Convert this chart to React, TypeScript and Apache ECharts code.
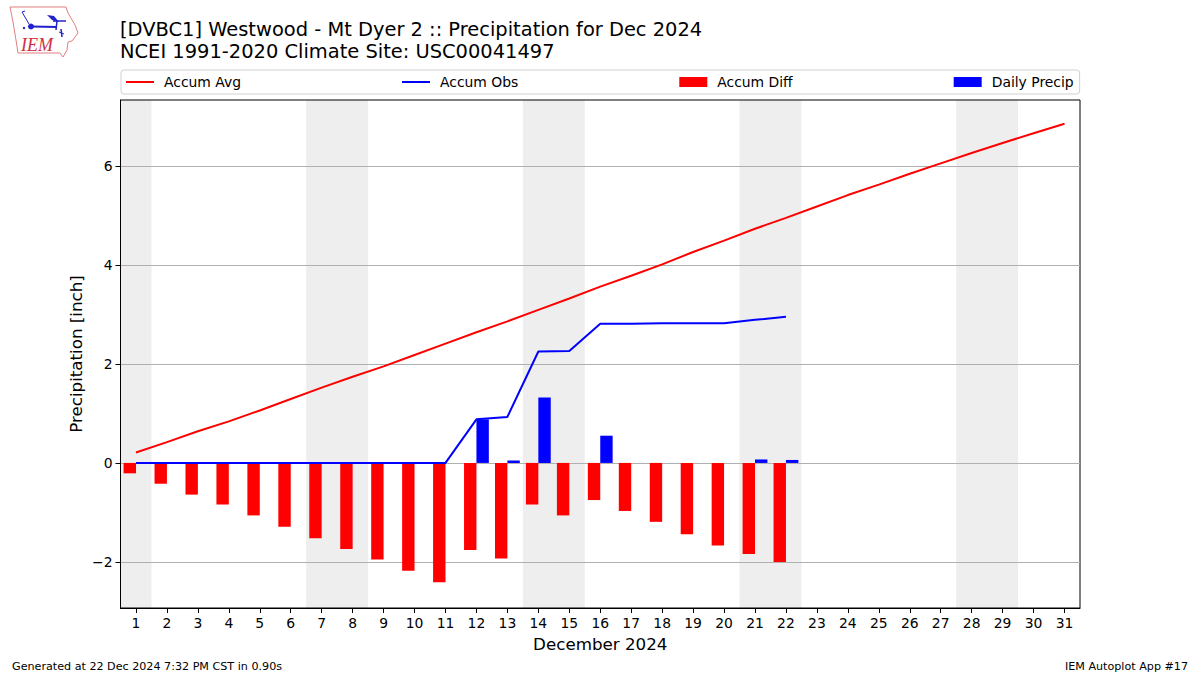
import React, { useEffect, useRef } from "react";
import * as echarts from "echarts";

const days = Array.from({ length: 31 }, (_, i) => String(i + 1));
const accumAvg = [0.21, 0.42, 0.64, 0.84, 1.06, 1.29, 1.52, 1.74, 1.95, 2.18, 2.41, 2.64, 2.86, 3.09, 3.32, 3.56, 3.78, 4.01, 4.26, 4.49, 4.73, 4.95, 5.18, 5.41, 5.62, 5.84, 6.05, 6.26, 6.46, 6.66, 6.85];
const accumObs = [0, 0, 0, 0, 0, 0, 0, 0, 0, 0, 0, 0.88, 0.93, 2.25, 2.26, 2.81, 2.81, 2.82, 2.82, 2.82, 2.89, 2.95];
const accumDiff = [-0.21, -0.42, -0.64, -0.84, -1.06, -1.29, -1.52, -1.74, -1.95, -2.18, -2.41, -1.76, -1.93, -0.84, -1.06, -0.75, -0.97, -1.19, -1.44, -1.67, -1.84, -2.0];
const dailyPrecip = [0, 0, 0, 0, 0, 0, 0, 0, 0, 0, 0, 0.88, 0.05, 1.32, 0, 0.55, 0, 0, 0, 0, 0.07, 0.06];
const weekendBands = [[0.5, 1.5], [6.5, 8.5], [13.5, 15.5], [20.5, 22.5], [27.5, 29.5]];
const yTicks = [-2, 0, 2, 4, 6];
const titleLines = ["[DVBC1] Westwood - Mt Dyer 2 :: Precipitation for Dec 2024", "NCEI 1991-2020 Climate Site: USC00041497"];
const FONT = "DejaVu Sans";
const LINE_ICON = "path://M0,0L0,0M0,4H28V6H0ZM28,10L28,10";

const iowa = [[10, 7], [66, 7], [68, 13], [75, 25], [78, 33], [72, 41], [68, 42], [67, 50], [63, 57], [60, 53], [18, 53], [16, 40], [13, 22]];

function logo() {
  const blue = "#2222cc";
  const line = (x1: number, y1: number, x2: number, y2: number, w = 1.5) => ({
    type: "line", shape: { x1, y1, x2, y2 }, style: { stroke: blue, lineWidth: w },
  });
  return [
    { type: "polygon", shape: { points: iowa }, style: { fill: "none", stroke: "#e08080", lineWidth: 1 } },
    line(31, 26.5, 57, 27, 2),
    line(53, 21, 66, 21, 1.5),
    line(57, 21, 56, 30, 1.5),
    line(61, 29, 62, 37, 1.5),
    line(59, 32, 64, 34, 1),
    line(22, 12, 29, 24, 1),
    line(22, 12, 25, 11, 1),
    { type: "circle", shape: { cx: 31, cy: 26.5, r: 3 }, style: { fill: blue } },
    { type: "circle", shape: { cx: 24, cy: 28, r: 1.2 }, style: { fill: blue } },
    { type: "polygon", shape: { points: [[47, 15], [54, 16], [59, 22], [52, 20]] }, style: { fill: blue } },
    { type: "text", x: 21, y: 36, style: { text: "IEM", fill: "#d03040", font: "italic 18px 'Liberation Serif'" } },
  ];
}

export default function App() {
  const ref = useRef<HTMLDivElement>(null);
  useEffect(() => {
    const chart = echarts.init(ref.current!, undefined, { renderer: "svg" });
    chart.setOption({
      animation: false,
      backgroundColor: "#fff",
      textStyle: { fontFamily: FONT },
      title: {
        text: titleLines.join("\n"), left: 120, top: 18, padding: 0,
        textStyle: { fontFamily: FONT, fontSize: 19.45, fontWeight: "normal", color: "#000", lineHeight: 22.5 },
      },
      legend: {
        left: 121, top: 70, padding: [5, 6, 5, 5], itemGap: 161, itemWidth: 28, itemHeight: 10,
        borderColor: "#d0d0d0", borderWidth: 1, borderRadius: 3,
        textStyle: { fontFamily: FONT, fontSize: 13.9, color: "#000", padding: [0, 0, 0, 5] },
        data: [
          { name: "Accum Avg", icon: LINE_ICON }, { name: "Accum Obs", icon: LINE_ICON },
          { name: "Accum Diff", icon: "rect" }, { name: "Daily Precip", icon: "rect" },
        ],
      },
      grid: { left: 120.5, right: 120, top: 100, bottom: 67, show: true, borderColor: "#000", borderWidth: 1 },
      xAxis: [
        {
          type: "category", data: days, boundaryGap: true,
          name: "December 2024", nameLocation: "middle", nameGap: 27,
          nameTextStyle: { fontFamily: FONT, fontSize: 16.7, color: "#000" },
          axisLine: { show: true, onZero: false, lineStyle: { color: "#000" } },
          axisTick: { show: true, inside: false, alignWithLabel: true, length: 5, lineStyle: { color: "#000", width: 1 } },
          axisLabel: { interval: 0, fontFamily: FONT, fontSize: 13.9, color: "#000", margin: 8 },
          splitLine: { show: false },
        },
        { type: "value", min: 0.5, max: 31.5, show: false, splitLine: { show: false } },
      ],
      yAxis: {
        type: "value", min: -2.93, max: 7.33,
        name: "Precipitation [inch]", nameLocation: "middle", nameGap: 36, nameMoveOverlap: false,
        nameTextStyle: { fontFamily: FONT, fontSize: 16.7, color: "#000" },
        axisLine: { show: true, lineStyle: { color: "#000" } },
        axisTick: { show: true, inside: false, length: 5, lineStyle: { color: "#000", width: 1 }, customValues: yTicks },
        axisLabel: { fontFamily: FONT, fontSize: 13.9, color: "#000", margin: 8, customValues: yTicks, formatter: (v: number) => (v < 0 ? "\u2212" + -v : String(v)) },
        splitLine: { show: true, lineStyle: { color: "#b0b0b0", width: 1 } },
      },
      series: [
        {
          name: "weekend", type: "line", xAxisIndex: 1, data: [], z: -1, silent: true, symbol: "none",
          markArea: {
            silent: true, z: -1, itemStyle: { color: "#eeeeee" },
            data: weekendBands.map(([a, b]) => [{ xAxis: a }, { xAxis: b }]),
          },
        },
        { name: "Accum Avg", type: "line", data: accumAvg, symbol: "none", lineStyle: { color: "#ff0000", width: 2 }, itemStyle: { color: "#ff0000" }, z: 5 },
        { name: "Accum Obs", type: "line", data: accumObs, symbol: "none", lineStyle: { color: "#0000ff", width: 2 }, itemStyle: { color: "#0000ff" }, z: 5 },
        { name: "Accum Diff", type: "bar", data: accumDiff, barWidth: 12.4, barGap: "0%", itemStyle: { color: "#ff0000" }, z: 3 },
        { name: "Daily Precip", type: "bar", data: dailyPrecip, barWidth: 12.4, barGap: "0%", itemStyle: { color: "#0000ff" }, z: 3 },
      ],
      graphic: [
        ...logo(),
        { type: "text", x: 12, y: 661, style: { text: "Generated at 22 Dec 2024 7:32 PM CST in 0.90s", fill: "#000", font: `11.15px '${FONT}'` } },
        { type: "text", right: 12, y: 661, style: { text: "IEM Autoplot App #17", fill: "#000", font: `11.15px '${FONT}'` } },
      ],
    });
    return () => chart.dispose();
  }, []);
  return <div ref={ref} style={{ width: 1200, height: 675, position: "fixed", left: 0, top: 0 }} />;
}
